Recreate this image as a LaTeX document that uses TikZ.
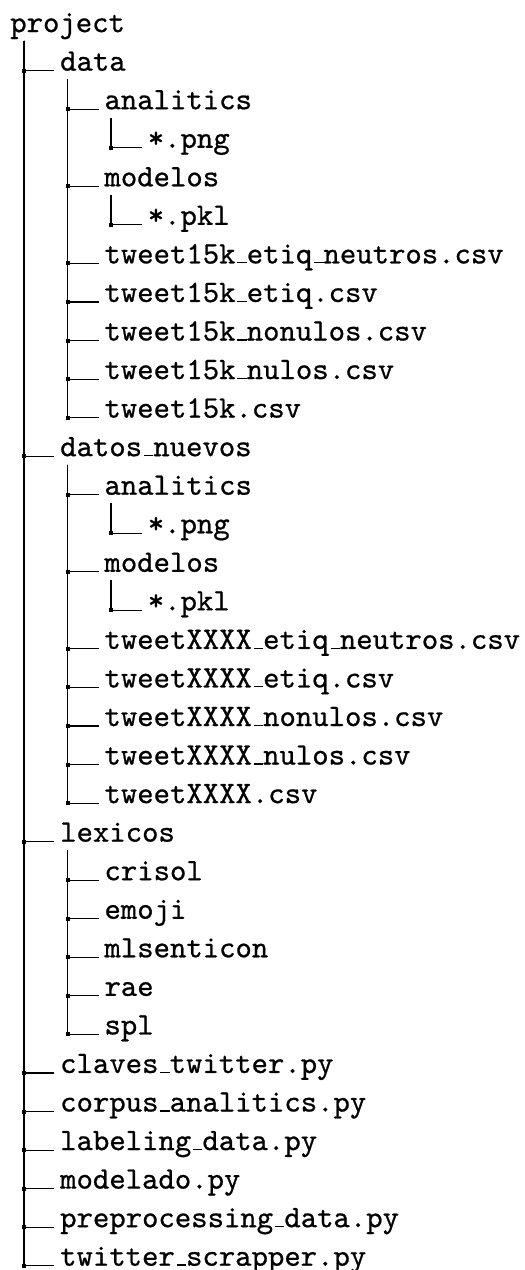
\documentclass[tikz,border=0pt]{standalone}
\usepackage{fontspec}
\usetikzlibrary{calc}
\newfontfamily\treemono[FakeBold=0.7]{lmmono10-regular.otf}
\newcommand{\us}{\leavevmode\kern.06em\vbox{\hrule height .7pt width.3em}}
\begin{document}
\begin{tikzpicture}[x=0.5pt,y=0.5pt,
  entry/.style={anchor=base west,inner sep=0pt,outer sep=0pt,font=\fontsize{15.6}{18}\treemono},
  conn/.style={draw=black,line width=0.55pt}]
\useasboundingbox (0,0) rectangle (525,-1270);
\newcommand{\rowy}[1]{-32.1-38.55*#1}
\newcommand{\ent}[4]{\node[entry] (#1) at (#2,{\rowy{#3}}) {#4};}
\ent{p}{10.3}{0}{project}
\ent{d}{60.2}{1}{data}
\ent{da}{104.5}{2}{analitics}
\ent{dap}{147.8}{3}{*.png}
\ent{dm}{104.5}{4}{modelos}
\ent{dmp}{147.8}{5}{*.pkl}
\ent{d1}{104.5}{6}{tweet15k\us etiq\us neutros.csv}
\ent{d2}{104.5}{7}{tweet15k\us etiq.csv}
\ent{d3}{104.5}{8}{tweet15k\us nonulos.csv}
\ent{d4}{104.5}{9}{tweet15k\us nulos.csv}
\ent{d5}{104.5}{10}{tweet15k.csv}
\ent{n}{60.2}{11}{datos\us nuevos}
\ent{na}{104.5}{12}{analitics}
\ent{nap}{147.8}{13}{*.png}
\ent{nm}{104.5}{14}{modelos}
\ent{nmp}{147.8}{15}{*.pkl}
\ent{n1}{104.5}{16}{tweetXXXX\us etiq\us neutros.csv}
\ent{n2}{104.5}{17}{tweetXXXX\us etiq.csv}
\ent{n3}{104.5}{18}{tweetXXXX\us nonulos.csv}
\ent{n4}{104.5}{19}{tweetXXXX\us nulos.csv}
\ent{n5}{104.5}{20}{tweetXXXX.csv}
\ent{l}{60.2}{21}{lexicos}
\ent{l1}{104.5}{22}{crisol}
\ent{l2}{104.5}{23}{emoji}
\ent{l3}{104.5}{24}{mlsenticon}
\ent{l4}{104.5}{25}{rae}
\ent{l5}{104.5}{26}{spl}
\ent{f1}{60.2}{27}{claves\us twitter.py}
\ent{f2}{60.2}{28}{corpus\us analitics.py}
\ent{f3}{60.2}{29}{labeling\us data.py}
\ent{f4}{60.2}{30}{modelado.py}
\ent{f5}{60.2}{31}{preprocessing\us data.py}
\ent{f6}{60.2}{32}{twitter\us scrapper.py}
\coordinate (L1) at (24,0);
\coordinate (L2) at (67.7,0);
\coordinate (L3) at (111,0);
\newcommand{\conn}[3]{%
  \draw[conn] ($(#3 |- #1.base)+(0,-8.5)$) -- (#3 |- #2.base) -- ($(#2.base west)+(-6,0)$);
  \fill ($(#3 |- #2.base)+(-2,-2)$) rectangle +(4,4);}
\foreach \c in {d,n,l,f1,f2,f3,f4,f5,f6} {\conn{p}{\c}{L1}}
\foreach \c in {da,dm,d1,d2,d3,d4,d5} {\conn{d}{\c}{L2}}
\conn{da}{dap}{L3}
\conn{dm}{dmp}{L3}
\foreach \c in {na,nm,n1,n2,n3,n4,n5} {\conn{n}{\c}{L2}}
\conn{na}{nap}{L3}
\conn{nm}{nmp}{L3}
\foreach \c in {l1,l2,l3,l4,l5} {\conn{l}{\c}{L2}}
\end{tikzpicture}
\end{document}
